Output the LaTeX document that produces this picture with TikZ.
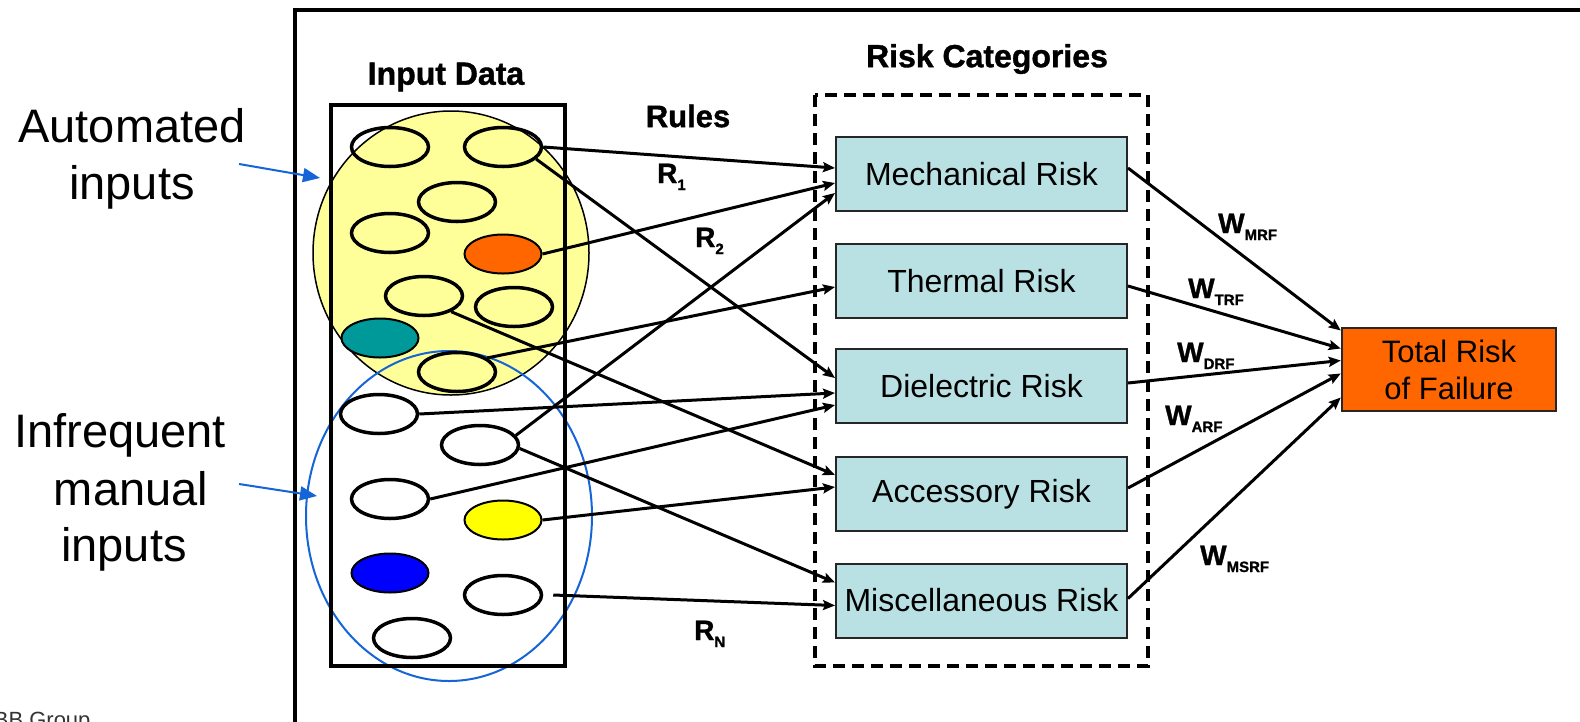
\documentclass[tikz,border=0pt]{standalone}
\usepackage{fontspec}
\setmainfont{Liberation Sans}
\newfontfamily\heavyfont[FakeBold=1.2]{Liberation Sans Bold}
\usetikzlibrary{shapes.geometric,arrows.meta,calc}

\definecolor{paleyellow}{HTML}{FFFF99}
\definecolor{riskfill}{HTML}{B9E0E3}
\definecolor{hotorange}{HTML}{FF6600}
\definecolor{tealfill}{HTML}{009999}
\definecolor{ringblue}{HTML}{1565D8}
\definecolor{dotyellow}{HTML}{FFFF00}
\definecolor{dotblue}{HTML}{0000FF}

% heavy subscript index for rule and weight labels
\newcommand{\lowidx}[1]{\raisebox{-7pt}{\fontsize{15}{15}\selectfont\heavyfont #1}}

\begin{document}
\begin{tikzpicture}[x=1pt,y=-1pt,
  dot/.style={ellipse, draw, line width=3.5pt, minimum width=77pt, minimum height=39pt, inner sep=0pt},
  cdot/.style={dot, line width=2pt},
  riskbox/.style={rectangle, draw=black!85, line width=2pt, fill=riskfill,
    minimum width=291pt, minimum height=74pt, inner sep=0pt,
    font=\fontsize{32}{32}\selectfont},
  rule/.style={line width=3pt, -{Stealth[length=12pt,width=10pt,inset=2pt]}},
  pointer/.style={ringblue, line width=2pt, -{Triangle[length=17pt,width=14pt]}},
  side/.style={font=\fontsize{47}{47}\selectfont, anchor=base, inner sep=0pt},
  head/.style={font=\fontsize{32}{32}\selectfont\heavyfont, inner sep=0pt},
  wt/.style={anchor=base west, inner sep=0pt, font=\fontsize{28}{28}\selectfont\heavyfont}]

\useasboundingbox (0,0) rectangle (1580,721);
\fill[white] (0,0) rectangle (1580,721);

% outer frame
\draw[line width=4pt] (295,760) -- (295,10) -- (1620,10);

% footer
\node[anchor=base west, inner sep=0pt, font=\fontsize{22}{22}\selectfont, text=black!80] (grp) at (-21,727) {ABB Group};

% side captions
\node[side] (auto1) at (132,142) {Automated};
\node[side] (auto2) at (132,199) {inputs};
\node[side] (man1) at (120,447) {Infrequent};
\node[side] (man2) at (131,505) {manual};
\node[side] (man3) at (124,561) {inputs};

% groupings of the input data
\draw[fill=paleyellow, line width=1.5pt] (451,253) ellipse [x radius=138pt, y radius=142pt];
\draw[ringblue, line width=2pt] (449,516) ellipse [x radius=143pt, y radius=165pt];

\coordinate (autotail) at (239,164);
\coordinate (autotip) at (320,178);
\coordinate (mantail) at (239,484);
\coordinate (mantip) at (317,496);
\draw[pointer] (autotail) -- (autotip);
\draw[pointer] (mantail) -- (mantip);

% input data box
\node[head] (inlbl) at (446,77) {Input Data};
\draw[line width=4pt] (331,105) rectangle (565,666);

% data items
\node[dot] (e1) at (390,147) {};
\node[dot] (e2) at (503,147) {};
\node[dot] (e3) at (457,202) {};
\node[dot] (e4) at (390,233) {};
\node[cdot, fill=hotorange] (e5) at (503,254) {};
\node[dot] (e6) at (424,296) {};
\node[dot] (e7) at (514,307) {};
\node[cdot, fill=tealfill] (e8) at (380,338) {};
\node[dot] (e9) at (457,372) {};
\node[dot] (e10) at (379,414) {};
\node[dot] (e11) at (480,445) {};
\node[dot] (e12) at (390,499) {};
\node[cdot, fill=dotyellow] (e13) at (503,520) {};
\node[cdot, fill=dotblue] (e14) at (390,573) {};
\node[dot] (e15) at (503,595) {};
\node[dot] (e16) at (412,638) {};

% risk categories
\node[head] (rclbl) at (987,59) {Risk Categories};
\node[head, font=\fontsize{31}{31}\selectfont\heavyfont] (rullbl) at (688,116) {Rules};
\draw[line width=4pt, dash pattern=on 12pt off 7pt] (815,95) rectangle (1148,666);

\node[riskbox] (mech) at (981.5,174) {Mechanical Risk};
\node[riskbox] (therm) at (981.5,281) {Thermal Risk};
\node[riskbox] (diel) at (981.5,386) {Dielectric Risk};
\node[riskbox] (acc) at (981.5,494) {Accessory Risk};
\node[riskbox] (misc) at (981.5,600.5) {Miscellaneous Risk};

\node[rectangle, draw=black!85, line width=2.5pt, fill=hotorange,
  minimum width=214pt, minimum height=83pt, inner sep=0pt, align=center,
  font=\fontsize{31}{37}\selectfont] (total) at (1449,369.5) {Total Risk\\of Failure};

% rules from data items to risk categories
\draw[rule] (e2.east) -- ([yshift=6pt]mech.west);
\draw[rule] (e2.-20) -- ([yshift=8pt]diel.west);
\draw[rule] (e5.east) -- ([yshift=-9pt]mech.west);
\draw[rule] (e6.-30) -- ([yshift=19pt]acc.west);
\draw[rule] (e9.25) -- ([yshift=-6pt]therm.west);
\draw[rule] (e11.15) -- ([yshift=-19pt]mech.west);
\draw[rule] (e10.east) -- ([yshift=-7pt]diel.west);
\draw[rule] (e12.east) -- ([yshift=-19pt]diel.west);
\draw[rule] (e11.-5) -- ([yshift=18pt]misc.west);
\draw[rule] (e13.east) -- ([yshift=7pt]acc.west);
\draw[rule] ([xshift=10pt]e15.east) -- ([yshift=-5pt]misc.west);

\node[wt] (r1) at (657,183) {R\lowidx{1}};
\node[wt] (r2) at (695,247) {R\lowidx{2}};
\node[wt] (rn) at (694,640) {R\lowidx{N}};

% weights from risk categories to total risk
\draw[rule] ([yshift=6pt]mech.east) -- ([yshift=39pt]total.west);
\draw[rule] ([yshift=-5pt]therm.east) -- ([yshift=21pt]total.west);
\draw[rule] ([yshift=3pt]diel.east) -- ([yshift=9pt]total.west);
\draw[rule] ([yshift=6pt]acc.east) -- ([yshift=-4pt]total.west);
\draw[rule] ([yshift=2pt]misc.east) -- ([yshift=-28pt]total.west);

\node[wt] (wm) at (1218,233) {W\lowidx{MRF}};
\node[wt] (wt) at (1188,298) {W\lowidx{TRF}};
\node[wt] (wd) at (1177,362) {W\lowidx{DRF}};
\node[wt] (wa) at (1165,425) {W\lowidx{ARF}};
\node[wt] (wms) at (1200,565) {W\lowidx{MSRF}};
\end{tikzpicture}
\end{document}
